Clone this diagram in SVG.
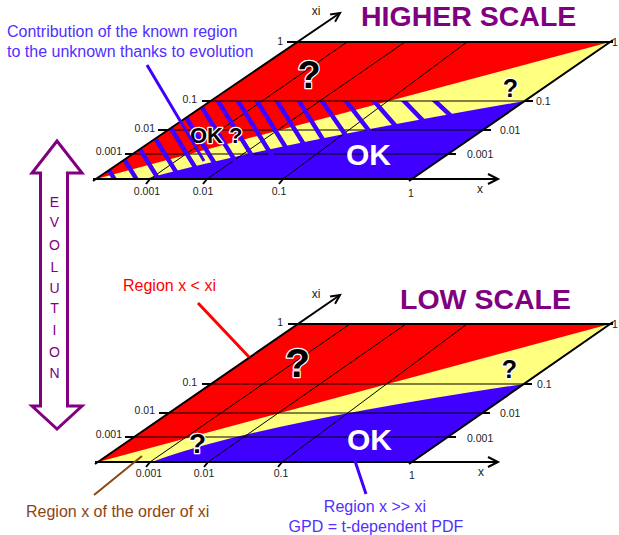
<svg xmlns="http://www.w3.org/2000/svg" width="619" height="535" viewBox="0 0 619 535">
<style>
text{font-family:"Liberation Sans",Arial,sans-serif}
.tk{font-size:10.5px;fill:#222}
.ax{font-size:12px;fill:#222}
.edge{stroke:#000;stroke-width:2;fill:none}
.arr{stroke:#000;stroke-width:2;fill:none;stroke-linejoin:miter}
.grid{stroke:#000;stroke-width:1;fill:none}
.tick{stroke:#000;stroke-width:2;fill:none}
.q{font-weight:bold;fill:#000;stroke:#fff;stroke-width:2.5;paint-order:stroke;stroke-linejoin:round}
.ok{font-weight:bold;fill:#fff;font-size:30px}
.red{fill:#ff0000}.yel{fill:#ffff80}.blu{fill:#4000ff}
.stripe{stroke:#4000ff;stroke-width:4.5}
.title{font-weight:bold;font-size:28.5px;fill:#800080}
.lbl{font-size:16px}
.evo{font-size:14px;fill:#800080}
</style>
<defs>
<clipPath id="hatch"><path d="M96,179 L210.4,101 L524.7,101 L524,103 Q290,148 175,179 Z"/></clipPath>
</defs>

<g id="higher-scale">
<path class="yel" d="M96,179 L297,42 L610,42 L412,179 Z"/>
<path class="red" d="M96,179 L297,42 L610,42 Z"/>
<path class="blu" d="M145,179 Q270,145 524.7,101 L412,179 Z"/>
<path class="grid" d="M167.9,130 H482.8 M132.7,154 H448.1 M150,179 L347,42 M207,179 L405,42 M283,179 L467,42"/>
<g clip-path="url(#hatch)" class="stripe">
<path d="M62.3,95 L121.2,190 M84.3,95 L143.2,190 M106.3,95 L165.2,190 M128.3,95 L187.2,190 M150.3,95 L209.2,190 M172.3,95 L231.2,190 M194.3,95 L253.2,190 M214.3,95 L273.2,190 M234.3,95 L293.2,190 M253.3,95 L312.2,190 M273.3,95 L332.2,190 M295.3,95 L354.2,190 M317.8,95 L383.7,190 M341.4,95 L414.8,190 M368.8,95 L451.2,190 M398.2,95 L490.1,190 M428.6,95 L530.2,190"/>
</g>
<path class="grid" d="M210.4,101 H524.7"/>
<path class="edge" d="M93,181 L340,13 M297,42 H613 M613,40 L409,181 M93,179 H498"/>
<path class="arr" d="M488,174 L498,179 L488,184 M330.1,14.4 L340,13 L335.1,21.8"/>
<path class="tick" d="M287,42 H297 M202,101 H210 M158,130 H168 M125,154 H133 M525,101 H533 M483,130 H491 M448,154 H456 M150,179 l-4,5 M207,179 l-4,5 M283,179 l-4,5"/>
<text class="tk" x="283" y="45" text-anchor="end">1</text>
<text class="tk" x="197" y="103" text-anchor="end">0.1</text>
<text class="tk" x="155" y="132" text-anchor="end">0.01</text>
<text class="tk" x="122" y="155" text-anchor="end">0.001</text>
<text class="tk" x="612" y="46">1</text>
<text class="tk" x="536" y="105">0.1</text>
<text class="tk" x="500" y="134">0.01</text>
<text class="tk" x="467" y="158">0.001</text>
<text class="tk" x="147" y="195" text-anchor="middle">0.001</text>
<text class="tk" x="203" y="195" text-anchor="middle">0.01</text>
<text class="tk" x="279" y="195" text-anchor="middle">0.1</text>
<text class="tk" x="411" y="197" text-anchor="middle">1</text>
<text class="ax" x="480" y="193" text-anchor="middle">x</text>
<text class="ax" x="316" y="15" text-anchor="middle">xi</text>
<text class="q" x="309" y="88" font-size="38" text-anchor="middle">?</text>
<text class="q" x="510.5" y="97" font-size="25" text-anchor="middle">?</text>
<text class="q" x="190" y="142.5" font-size="22">OK ?</text>
<text class="ok" x="346" y="165">OK</text>
<text class="title" x="361" y="26">HIGHER SCALE</text>
</g>

<g id="low-scale">
<path class="yel" d="M98,462 L298,324 L610,324 L412,462 Z"/>
<path class="red" d="M98,462 L298,324 L610,324 Z"/>
<path class="blu" d="M152,462 Q250,425 523.9,384 L412,462 Z"/>
<path class="grid" d="M211,384 H523.9 M169,413 H482.3 M134.2,437 H447.9 M150,462 L350,324 M208,462 L406,324 M282,462 L467,324"/>
<path class="edge" d="M95,464 L340,295 M298,324 H613 M613,322 L409,464 M95,462 H498"/>
<path class="arr" d="M488,457 L498,462 L488,467 M330.1,296.4 L340,295 L335.1,303.8"/>
<path class="tick" d="M288,324 H298 M202,384 H211 M159,413 H169 M125,437 H134 M524,384 H532 M482,413 H490 M448,437 H456 M150,462 l-4,5 M208,462 l-4,5 M282,462 l-4,5"/>
<text class="tk" x="283" y="326" text-anchor="end">1</text>
<text class="tk" x="197" y="386" text-anchor="end">0.1</text>
<text class="tk" x="155" y="414" text-anchor="end">0.01</text>
<text class="tk" x="122" y="438" text-anchor="end">0.001</text>
<text class="tk" x="612" y="328">1</text>
<text class="tk" x="537" y="388">0.1</text>
<text class="tk" x="500" y="417">0.01</text>
<text class="tk" x="467" y="442">0.001</text>
<text class="tk" x="149" y="477" text-anchor="middle">0.001</text>
<text class="tk" x="204" y="477" text-anchor="middle">0.01</text>
<text class="tk" x="281" y="477" text-anchor="middle">0.1</text>
<text class="tk" x="412" y="479" text-anchor="middle">1</text>
<text class="ax" x="481" y="476" text-anchor="middle">x</text>
<text class="ax" x="316" y="298" text-anchor="middle">xi</text>
<text class="q" x="297.5" y="377" font-size="41" text-anchor="middle">?</text>
<text class="q" x="509.5" y="378" font-size="25" text-anchor="middle">?</text>
<text class="q" x="197.5" y="453" font-size="28" text-anchor="middle">?</text>
<text class="ok" x="347" y="450">OK</text>
<text class="title" x="400" y="309">LOW SCALE</text>
</g>

<g id="evolution">
<path d="M57,141 L82,173 L67.5,173 L67.5,406 L82,406 L57,429 L32,406 L40.5,406 L40.5,173 L32,173 Z" fill="#fff" stroke="#800080" stroke-width="3" stroke-linejoin="miter"/>
<text class="evo" text-anchor="middle">
<tspan x="54.5" y="207">E</tspan><tspan x="54.5" y="227">V</tspan><tspan x="54.5" y="250">O</tspan><tspan x="54.5" y="272">L</tspan><tspan x="54.5" y="293">U</tspan><tspan x="54.5" y="313">T</tspan><tspan x="54.5" y="335">I</tspan><tspan x="54.5" y="357">O</tspan><tspan x="54.5" y="378">N</tspan>
</text>
</g>

<g id="connectors">
<line x1="147" y1="65" x2="204" y2="161" stroke="#4000ff" stroke-width="3"/>
<line x1="198" y1="303" x2="249" y2="357" stroke="#ff0000" stroke-width="3"/>
<line x1="142" y1="456" x2="94" y2="495" stroke="#8b4513" stroke-width="2"/>
<line x1="352" y1="452" x2="366" y2="494" stroke="#4000ff" stroke-width="3"/>
</g>

<g id="labels">
<text class="lbl" x="7" y="36.5" fill="#5030ff">Contribution of the known region</text>
<text class="lbl" x="7" y="57" fill="#5030ff">to the unknown thanks to evolution</text>
<text class="lbl" x="123" y="291" fill="#ff0000">Region x &lt; xi</text>
<text class="lbl" x="26" y="517" fill="#8b4513">Region x of the order of xi</text>
<text class="lbl" x="375" y="512" fill="#5030ff" text-anchor="middle">Region x &gt;&gt; xi</text>
<text class="lbl" x="376" y="532" fill="#5030ff" text-anchor="middle">GPD = t-dependent PDF</text>
</g>
</svg>
